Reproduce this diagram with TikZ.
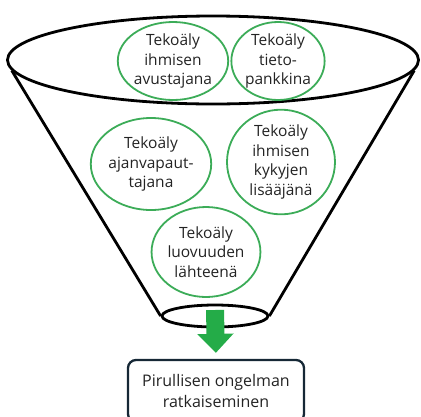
\documentclass[tikz,border=0pt]{standalone}
\usepackage{fontspec}
\setmainfont{Open Sans}
\usetikzlibrary{shapes.geometric, arrows.meta}
\definecolor{ideagreen}{RGB}{60,172,88}
\definecolor{arrowgreen}{RGB}{36,172,72}
\definecolor{boxnavy}{RGB}{22,40,54}
\definecolor{textgray}{RGB}{35,35,35}

\begin{document}
\begin{tikzpicture}[x=1pt, y=-1pt]

\tikzset{rim/.style = {shape=ellipse,draw,line width=2.8pt,inner sep=0pt}}
\tikzset{idea/.style = {shape=ellipse,draw=ideagreen,line width=1.8pt,inner sep=0pt,align=center,
  text=textgray,font=\fontsize{15.5}{19.5}\selectfont}}
\tikzset{result/.style = {draw=boxnavy,line width=2.3pt,rounded corners=8pt,align=center,
  text=textgray,font=\fontsize{16}{21}\selectfont,minimum width=176pt,minimum height=62pt}}
\useasboundingbox (0,0) rectangle (421,416);
%funnel
\node[rim, minimum width=411pt, minimum height=88pt] (top) at (213,60) {};
\node[rim, minimum width=106pt, minimum height=22pt] (bottom) at (215,316) {};
\draw [line width=2.8pt] (top.183) -- (bottom.west);
\draw [line width=2.8pt] (top.357) -- (bottom.east);
%ideas
\node[idea, minimum width=97pt, minimum height=78pt] (helper) at (173,61) {Tekoäly\\ihmisen\\avustajana};
\node[idea, minimum width=91pt, minimum height=78pt] (bank) at (278,61) {Tekoäly\\tieto-\\pankkina};
\node[idea, minimum width=102pt, minimum height=92pt] (time) at (151,164) {Tekoäly\\ajanvapaut-\\tajana};
\node[idea, minimum width=108pt, minimum height=100pt] (skills) at (281,162) {Tekoäly\\ihmisen\\kykyjen\\lisääjänä};
\node[idea, minimum width=103pt, minimum height=90pt] (create) at (206,252) {Tekoäly\\luovuuden\\lähteenä};
%result
\node[result] (solve) at (216,391) {Pirullisen ongelman\\ratkaiseminen};
\draw [arrowgreen, line width=18pt, -{Triangle[width=35pt,length=19pt]}, shorten >=6pt]
  ([yshift=6pt]bottom.center) -- (solve.north);

\end{tikzpicture}
\end{document}
